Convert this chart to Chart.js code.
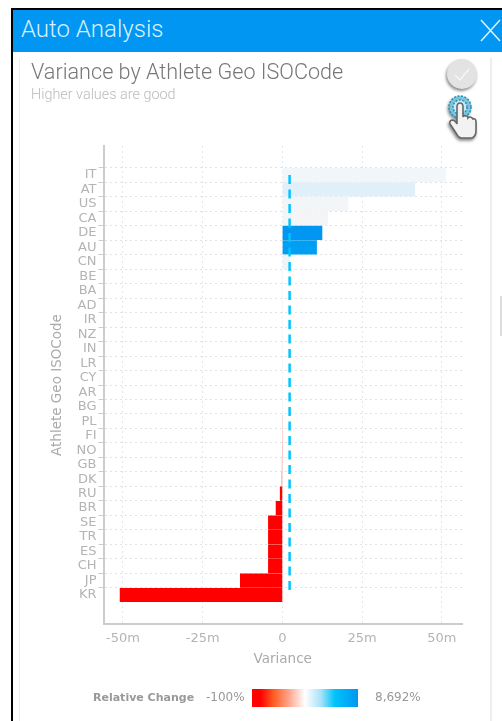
<!DOCTYPE html>
<html>
<head>
<meta charset="utf-8">
<title>Auto Analysis</title>
<script src="https://cdn.jsdelivr.net/npm/chart.js@4/dist/chart.umd.min.js"></script>
<style>
  html, body { margin: 0; padding: 0; background: #fff; }
  #page { position: relative; width: 502px; height: 721px; overflow: hidden; filter: blur(0.45px); font-family: Roboto, sans-serif; }
  #page > * { position: absolute; }
  #frame-top { left: 11px; top: 8px; width: 491px; height: 2px; background: #000; }
  #frame-left { left: 11px; top: 8px; width: 2px; height: 713px; background: #000; }
  #header { left: 13px; top: 10px; width: 489px; height: 42px; background: #0096f2; }
  #header-title { left: 21px; top: 15px; color: #d8f0ff; font-size: 24px; font-weight: 300; white-space: nowrap; }
  #panel { left: 19px; top: 58px; width: 470px; height: 663px; border-left: 1px solid #eee; border-right: 2px solid #eee; }
  #scroll { left: 500px; top: 296px; width: 2px; height: 40px; background: #ddd; }
  #title { left: 31px; top: 59px; color: #777; font-size: 21.6px; font-weight: 300; white-space: nowrap; }
  #subtitle { left: 31px; top: 86px; color: #bbb; font-size: 14.4px; font-weight: 300; white-space: nowrap; }
  #chart { left: 0; top: 0; }
  .legend { font-family: "DejaVu Sans", sans-serif; font-size: 12px; color: #999; top: 690px; white-space: nowrap; }
  #legend-bar { left: 252px; top: 689px; width: 106px; height: 18px;
    background: linear-gradient(to right, #ff0000 0%, #ff0000 8%, #ff5a20 20%, #ffa78f 35%, #ffffff 50%, #a8e2f8 65%, #00c4fb 78%, #0096f2 100%); }
</style>
</head>
<body>
<div id="page">
  <div id="panel"></div>
  <div id="scroll"></div>
  <div id="header"></div>
  <div id="frame-top"></div>
  <div id="frame-left"></div>
  <div id="header-title">Auto Analysis</div>
  <svg style="left:478px;top:17px" width="24" height="26"><path d="M3 3 L22 24 M22 3 L3 24" stroke="#d8f0ff" stroke-width="1.6" fill="none"/></svg>
  <div id="title">Variance by Athlete Geo ISOCode</div>
  <div id="subtitle">Higher values are good</div>
  <canvas id="chart" width="502" height="721"></canvas>
  <svg style="left:440px;top:55px;filter:drop-shadow(-1px 2px 1.5px #888)" width="50" height="90">
    <circle cx="22" cy="19" r="15" fill="#e3e3e3"/>
    <path d="M15 20 L20 25 L29 14" stroke="#f6f6f6" stroke-width="1.5" fill="none"/>
    <circle cx="20" cy="52" r="11" fill="#7cc4dc" stroke="#1b93bd" stroke-width="1.5" stroke-dasharray="2 1.5"/>
    <circle cx="20" cy="52" r="7" fill="#cfe9f2" stroke="#1b93bd" stroke-width="1.5" stroke-dasharray="2 1.5"/>
    <path d="M17 52 q0 -4 3 -4 q3 0 3 4 v10 q1 -2 3 -1 q2 0 2 2 q2 -2 4 0 q1 0 1 1 q3 -1 3 3 v9 q0 5 -4 7 h-11 q-3 -1 -5 -5 l-6 -9 q-1 -3 2 -4 q3 0 5 4 z" fill="#f2f2f2" stroke="#666" stroke-width="1.6"/>
  </svg>
  <div class="legend" style="left:93px;font-weight:bold;font-size:11px;top:691px">Relative Change</div>
  <div class="legend" style="left:206px">-100%</div>
  <div id="legend-bar"></div>
  <div class="legend" style="left:375px">8,692%</div>
</div>
<script>
  const categories = ['IT', 'AT', 'US', 'CA', 'DE', 'AU', 'CN', 'BE', 'BA', 'AD', 'IR', 'NZ', 'IN', 'LR', 'CY',
    'AR', 'BG', 'PL', 'FI', 'NO', 'GB', 'DK', 'RU', 'BR', 'SE', 'TR', 'ES', 'CH', 'JP', 'KR'];
  const variance = [51.1, 41.5, 20.6, 14.2, 12.4, 10.7, 2.3, 0, 0, 0, 0, 0, 0, 0, 0,
    0, 0, 0, 0, 0, -0.05, -0.2, -0.7, -2.0, -4.4, -4.4, -4.4, -4.4, -13.2, -50.9];
  const barColors = ['#f0f6fa', '#e0f0f9', '#f2f6f8', '#f3f5f7', '#0096f2', '#009ff3', '#eef4f7', '#f4f7f9', '#f4f7f9', '#f4f7f9',
    '#f4f7f9', '#f4f7f9', '#f4f7f9', '#f4f7f9', '#f4f7f9', '#f4f7f9', '#f4f7f9', '#ffd0d0', '#ffc0c0', '#ffb0b0',
    '#ffc0c0', '#ff9090', '#ff0000', '#ff0000', '#ff0000', '#ff0000', '#ff0000', '#ff0000', '#ff0000', '#ff0000'];
  const referenceValue = 2.25;
  const xTicks = [-50, -25, 0, 25, 50];
  const xTickLabels = ['-50m', '-25m', '0', '25m', '50m'];

  // blank rows give the empty space above IT and below KR
  const labels = ['', '', ...categories, '', ''];
  const axisFont = { family: 'DejaVu Sans', size: 13 };

  new Chart(document.getElementById('chart'), {
    data: {
      labels,
      datasets: [
        {
          type: 'line',
          indexAxis: 'y',
          order: 0,
          data: categories.map((c) => ({ x: referenceValue, y: c })),
          borderColor: '#00c4ff',
          borderWidth: 2.5,
          borderDash: [9, 5.5],
          pointRadius: 0
        },
        {
          type: 'bar',
          indexAxis: 'y',
          order: 1,
          data: categories.map((c, i) => ({ x: variance[i], y: c })),
          backgroundColor: barColors,
          barThickness: 13.5
        }
      ]
    },
    options: {
      indexAxis: 'y',
      responsive: false,
      animation: false,
      devicePixelRatio: 1,
      layout: { padding: { left: 49, right: 40, top: 146, bottom: 53 } },
      plugins: { legend: { display: false }, tooltip: { enabled: false } },
      scales: {
        x: {
          type: 'linear',
          min: -56.1,
          max: 56.3,
          afterBuildTicks: (scale) => { scale.ticks = xTicks.map((value) => ({ value })); },
          afterFit: (scale) => { scale.height = 44; },
          border: { color: '#ccc', width: 2, dash: [2, 3] },
          grid: { color: '#e6e6e6', drawTicks: false },
          ticks: {
            color: '#b4b4b4',
            font: axisFont,
            padding: 7,
            maxRotation: 0,
            callback: (value) => xTickLabels[xTicks.indexOf(value)]
          },
          title: { display: true, text: 'Variance', color: '#aaa', font: { family: 'DejaVu Sans', size: 13.5 }, padding: { top: 3, bottom: 0 } }
        },
        y: {
          type: 'category',
          offset: false,
          afterFit: (scale) => { scale.width = 54.5; },
          border: { color: '#ccc', width: 2, dash: [2, 3] },
          grid: {
            color: (ctx) => (labels[ctx.index] ? '#e2e2e2' : 'transparent'),
            tickColor: (ctx) => (labels[ctx.index] ? '#ccc' : 'transparent'),
            tickLength: 5
          },
          ticks: { color: '#b4b4b4', font: axisFont, autoSkip: false, padding: 2 },
          title: { display: true, text: 'Athlete Geo ISOCode', color: '#aaa', font: { family: 'DejaVu Sans', size: 13.5 }, padding: 0 }
        }
      }
    }
  });
</script>
</body>
</html>
